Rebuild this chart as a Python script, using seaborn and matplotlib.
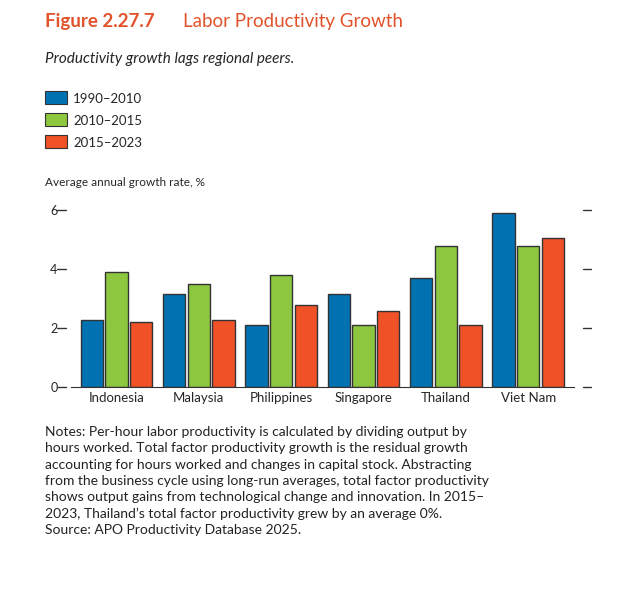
import matplotlib
matplotlib.use("Agg")
import matplotlib.pyplot as plt
import pandas as pd
import seaborn as sns

countries = ["Indonesia", "Malaysia", "Philippines", "Singapore", "Thailand", "Viet Nam"]
periods = ["1990\u20132010", "2010\u20132015", "2015\u20132023"]
v1990 = [2.3, 3.15, 2.1, 3.15, 3.7, 5.9]
v2010 = [3.9, 3.5, 3.8, 2.1, 4.8, 4.8]
v2015 = [2.2, 2.3, 2.8, 2.6, 2.1, 5.05]
colors = ["#0072b2", "#8dc63f", "#f05127"]

df = pd.DataFrame({"country": countries * 3,
                   "period": [p for p in periods for _ in countries],
                   "value": v1990 + v2010 + v2015})

sns.set_style("white")
plt.rcParams["font.family"] = ["Lato", "DejaVu Sans"]

fig = plt.figure(figsize=(6.2, 5.96), dpi=100)
ax = fig.add_axes([0.115, 0.35, 0.81, 0.297])
sns.barplot(data=df, x="country", y="value", hue="period", palette=colors, saturation=1,
            edgecolor="#333333", linewidth=1.0, gap=0.1, width=0.9, ax=ax, legend=False)
ax.set_ylim(0, 6)
ax.set_yticks([0, 2, 4, 6])
ax.set_yticklabels(["0", "2", "4", "6"], fontsize=9)
ax.set_xlabel("")
ax.set_ylabel("")
ax.tick_params(axis="x", length=0, labelsize=9.5)
ax.tick_params(axis="y", length=0, pad=10)
for s in ["top", "right", "left"]:
    ax.spines[s].set_visible(False)
ax.spines["bottom"].set_color("#333333")
ax.set_xlim(-0.55, 5.55)
for y in [0, 2, 4, 6]:
    ax.plot([-0.72, -0.62], [y, y], color="#333333", lw=1, clip_on=False)
    ax.plot([5.66, 5.76], [y, y], color="#333333", lw=1, clip_on=False)

fig.text(0.073, 0.955, "Figure 2.27.7", fontsize=13.5, fontweight="bold", color="#e2532b")
fig.text(0.295, 0.955, "Labor Productivity Growth", fontsize=13.5, color="#e2532b")
fig.text(0.073, 0.895, "Productivity growth lags regional peers.", fontsize=11, style="italic")
for i, (p, c) in enumerate(zip(periods, colors)):
    y = 0.826 - i * 0.037
    fig.patches.append(plt.Rectangle((0.073, y), 0.035, 0.022, transform=fig.transFigure,
                                     facecolor=c, edgecolor="#333333", lw=0.8))
    fig.text(0.118, y + 0.002, p, fontsize=9.5)
fig.text(0.073, 0.688, "Average annual growth rate, %", fontsize=8.5)

notes = ("Notes: Per-hour labor productivity is calculated by dividing output by\n"
         "hours worked. Total factor productivity growth is the residual growth\n"
         "accounting for hours worked and changes in capital stock. Abstracting\n"
         "from the business cycle using long-run averages, total factor productivity\n"
         "shows output gains from technological change and innovation. In 2015\u2013\n"
         "2023, Thailand\u2019s total factor productivity grew by an average 0%.\n"
         "Source: APO Productivity Database 2025.")
fig.text(0.073, 0.285, notes, fontsize=10, linespacing=1.42, color="#222222", va="top")

fig.savefig("out.png", dpi=100, facecolor="white")
